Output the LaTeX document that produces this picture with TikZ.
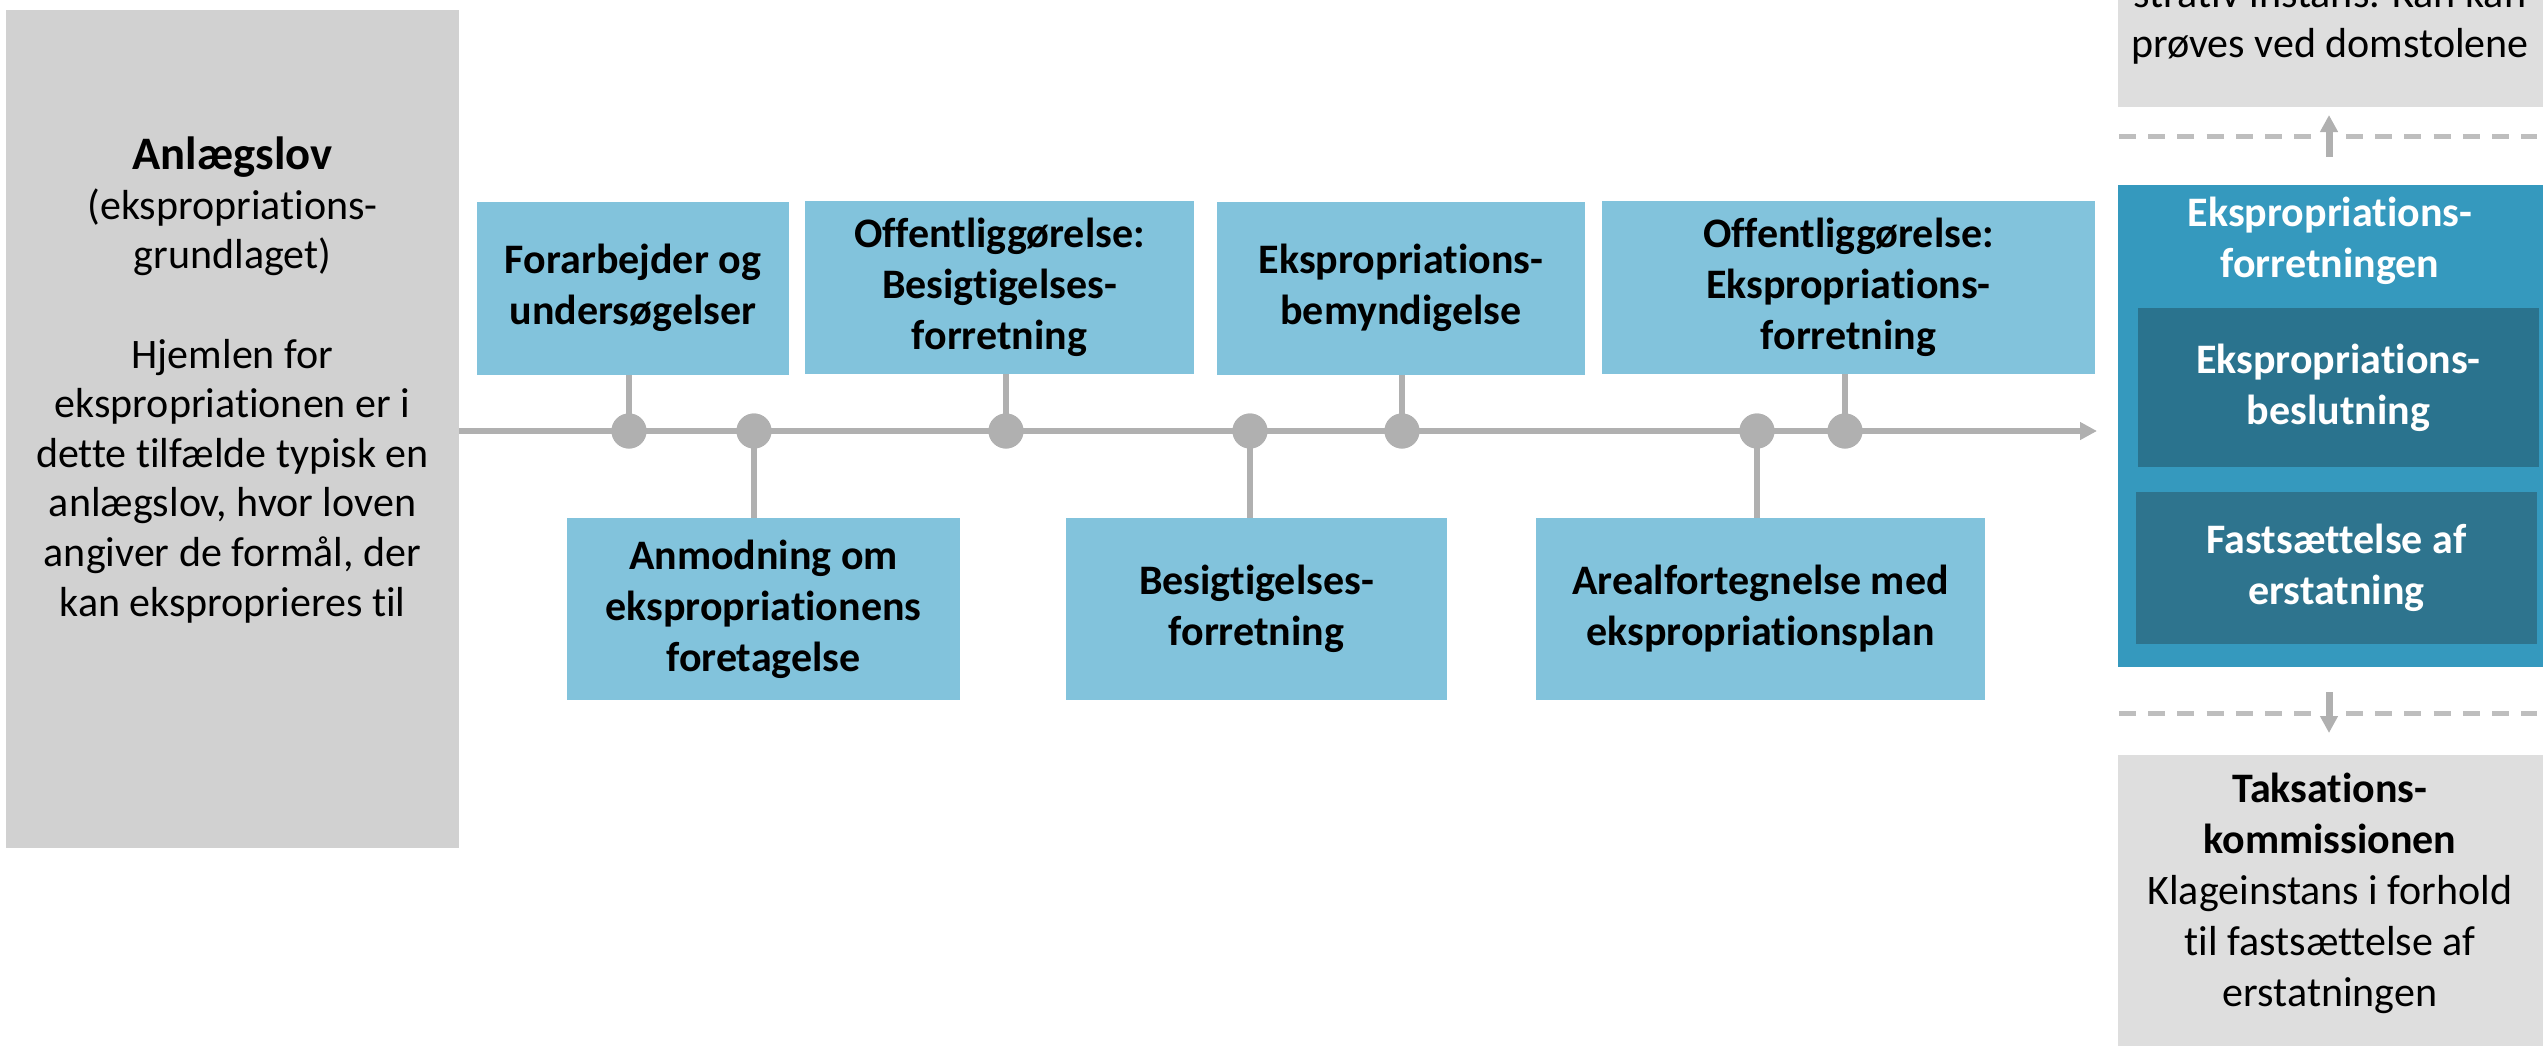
\documentclass[tikz,border=0pt]{standalone}
\usepackage{fontspec}
\setmainfont{Carlito}[Ligatures={NoCommon}]
\usetikzlibrary{arrows.meta}
\definecolor{lbox}{RGB}{130,195,220}
\definecolor{gbox}{RGB}{209,209,209}
\definecolor{rbox}{RGB}{222,222,222}
\definecolor{bigb}{RGB}{53,153,190}
\definecolor{innb}{RGB}{42,115,142}
\definecolor{innc}{RGB}{46,116,142}
\definecolor{tl}{RGB}{176,176,176}
\definecolor{dl}{RGB}{190,190,190}
\begin{document}
\begin{tikzpicture}[x=0.5pt,y=-0.5pt,
  txt/.style={font=\fontsize{21pt}{25.5pt}\selectfont, align=center, inner sep=0pt},
  stepbox/.style={fill=lbox, inner sep=0pt, align=center, text=black,
    font=\bfseries\fontsize{21pt}{25.5pt}\selectfont},
  innerbox/.style={inner sep=0pt, align=center, text=white,
    font=\bfseries\fontsize{21pt}{25.5pt}\selectfont},
  greybox/.style={fill=rbox, inner sep=0pt},
  dot/.style={circle, fill=tl, minimum size=17.5pt, inner sep=0pt},
  conn/.style={draw=tl, line width=3pt},
  tline/.style={draw=tl, line width=3pt, -{Triangle[length=8.5pt,width=8.5pt]}},
  dashline/.style={draw=dl, line width=2.5pt, dash pattern=on 8.5pt off 6.1pt},
  vflow/.style={draw=tl, line width=3.5pt, -{Triangle[length=8.5pt,width=8.5pt]}}
]
\useasboundingbox (0,0) rectangle (2544,1045);
\clip (0,0) rectangle (2544,1045);

% left box
\node[fill=gbox, inner sep=0pt, minimum width=226.5pt, minimum height=419pt] (left) at (232.5,429) {};
\node[txt, font=\fontsize{21pt}{24.8pt}\selectfont] (lefttext) at (232.5,380) {{\bfseries\fontsize{23.3pt}{24.8pt}\selectfont Anlægslov}\\(ekspropriations-\\grundlaget)\\[24.8pt]Hjemlen for\\ekspropriationen er i\\dette tilfælde typisk en\\anlægslov, hvor loven\\angiver de formål, der\\kan eksproprieres til};

% boxes above
\node[stepbox, minimum width=156pt, minimum height=86.5pt] (t1) at (633,288) {Forarbejder og\\undersøgelser};
\node[stepbox, minimum width=194.5pt, minimum height=86.5pt] (t2) at (999.5,287) {Offentliggørelse:\\Besigtigelses-\\forretning};
\node[stepbox, minimum width=184pt, minimum height=86.5pt] (t3) at (1401,288) {Ekspropriations-\\bemyndigelse};
\node[stepbox, minimum width=246.5pt, minimum height=86.5pt] (t4) at (1848.5,287) {Offentliggørelse:\\Ekspropriations-\\forretning};

% boxes below
\node[stepbox, minimum width=196.5pt, minimum height=91pt] (b1) at (763.5,609) {Anmodning om\\ekspropriationens\\foretagelse};
\node[stepbox, minimum width=190.5pt, minimum height=91pt] (b2) at (1256.5,609) {Besigtigelses-\\forretning};
\node[stepbox, minimum width=224.5pt, minimum height=91pt] (b3) at (1760.5,609) {Arealfortegnelse med\\ekspropriationsplan};

% timeline points
\node[dot] (d1) at (629,431) {};
\node[dot] (d2) at (754,431) {};
\node[dot] (d3) at (1006,431) {};
\node[dot] (d4) at (1250,431) {};
\node[dot] (d5) at (1402,431) {};
\node[dot] (d6) at (1757,431) {};
\node[dot] (d7) at (1845,431) {};

% connectors
\coordinate (tstart) at (459,431);
\coordinate (tend) at (2097,431);
\draw[conn] (d1.center) -- (d1 |- t1.south);
\draw[conn] (d3.center) -- (d3 |- t2.south);
\draw[conn] (d5.center) -- (d5 |- t3.south);
\draw[conn] (d7.center) -- (d7 |- t4.south);
\draw[conn] (d2.center) -- (d2 |- b1.north);
\draw[conn] (d4.center) -- (d4 |- b2.north);
\draw[conn] (d6.center) -- (d6 |- b3.north);
\draw[tline] (tstart) -- (tend);
\foreach \d in {d1,d2,d3,d4,d5,d6,d7} {\node[dot] at (\d) {};}

% right column
\node[greybox, minimum width=212.5pt, minimum height=153.5pt] (topbox) at (2330.5,-46.5) {};
\node[txt, anchor=base] (toptext0) at (2330,7) {strativ instans. Kan kan};
\node[txt, anchor=base] (toptext) at (2330,57) {prøves ved domstolene};

\coordinate (ua) at (2119,136); \coordinate (ub) at (2311,136);
\coordinate (uc) at (2346,136); \coordinate (ud) at (2537,136);
\draw[dashline] (ua) -- (ub);
\draw[dashline] (uc) -- (ud);
\coordinate (upfrom) at (2329,157); \coordinate (upto) at (2329,115);
\draw[vflow] (upfrom) -- (upto);

\node[fill=bigb, inner sep=0pt, minimum width=212.5pt, minimum height=241pt] (big) at (2330.5,426) {};
\node[innerbox] (bigtitle) at (2330,241) {Ekspropriations-\\forretningen};
\node[innerbox, fill=innb, minimum width=200.5pt, minimum height=79.5pt] (inner1) at (2338.5,387.5) {Ekspropriations-\\beslutning};
\node[innerbox, fill=innc, minimum width=200.5pt, minimum height=76pt] (inner2) at (2336.5,568) {Fastsættelse af\\erstatning};

\coordinate (la) at (2119,713); \coordinate (lb) at (2311,713);
\coordinate (lc) at (2346,713); \coordinate (ld) at (2537,713);
\draw[dashline] (la) -- (lb);
\draw[dashline] (lc) -- (ld);
\coordinate (downfrom) at (2329,692); \coordinate (downto) at (2329,733);
\draw[vflow] (downfrom) -- (downto);

\node[greybox, minimum width=212.5pt, minimum height=247.5pt] (botbox) at (2330.5,1002.5) {};
\node[txt] (bottext) at (2330,893) {\textbf{Taksations-}\\\textbf{kommissionen}\\Klageinstans i forhold\\til fastsættelse af\\erstatningen};
\end{tikzpicture}
\end{document}
